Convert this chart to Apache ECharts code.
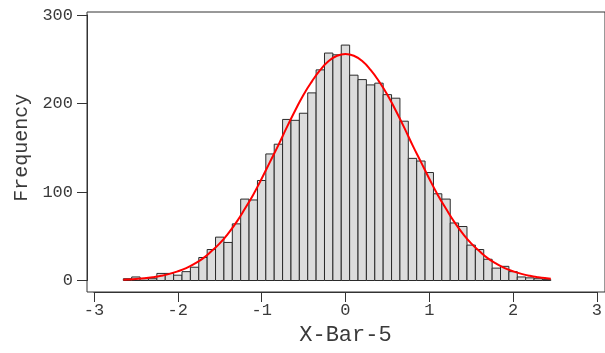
<!DOCTYPE html>
<html>
<head>
<meta charset="utf-8">
<script src="https://cdn.jsdelivr.net/npm/echarts@6/dist/echarts.min.js"></script>
<style>html,body{margin:0;padding:0;background:#fff}#c{width:605px;height:353px}</style>
</head>
<body>
<div id="c"></div>
<script>
// Histogram bin centers (width 0.1)
var binCenters = [-2.6,-2.5,-2.4,-2.3,-2.2,-2.1,-2.0,-1.9,-1.8,-1.7,-1.6,-1.5,-1.4,-1.3,-1.2,-1.1,-1.0,-0.9,-0.8,-0.7,-0.6,-0.5,-0.4,-0.3,-0.2,-0.1,0.0,0.1,0.2,0.3,0.4,0.5,0.6,0.7,0.8,0.9,1.0,1.1,1.2,1.3,1.4,1.5,1.6,1.7,1.8,1.9,2.0,2.1,2.2,2.3,2.4];
var binCounts  = [2,4,2,2,8,8,6,10,15,26,35,49,43,64,92,91,113,143,154,182,181,189,212,238,257,255,266,232,227,221,223,210,206,180,138,135,122,98,92,65,61,40,35,24,14,16,10,4,3,2,1];
var binWidth = 0.1;
// Fitted normal curve
var curveX = [-2.65,-2.6,-2.5,-2.4,-2.3,-2.2,-2.1,-2.0,-1.9,-1.8,-1.7,-1.6,-1.5,-1.4,-1.3,-1.2,-1.1,-1.0,-0.9,-0.8,-0.7,-0.6,-0.5,-0.4,-0.3,-0.2,-0.1,0.0,0.1,0.2,0.3,0.4,0.5,0.6,0.7,0.8,0.9,1.0,1.1,1.2,1.3,1.4,1.5,1.6,1.7,1.8,1.9,2.0,2.1,2.2,2.3,2.4,2.45];
var curveY = [0.9,1.1,1.7,2.5,3.7,5.3,7.5,10.4,14,19,25,33,42,53,66,81,97,115,134,153,173,192,210,225,238,248,254,256,254,248,238,225,210,192,173,153,134,115,97,81,66,53,42,33,25,19,14,10.4,7.5,5.3,3.7,2.5,2.1];
// Axis ticks
var xTicks = [-3,-2,-1,0,1,2,3];
var yTicks = [0,100,200,300];

var FONT = '"Liberation Mono", "DejaVu Sans Mono", monospace';
var TXT = '#3a3a3a';

var chart = echarts.init(document.getElementById('c'), null, {renderer:'canvas'});
var histData = binCenters.map(function(c,i){return [c, binCounts[i]];});
var lineData = curveX.map(function(x,i){return [x, curveY[i]];});

chart.setOption({
  animation:false,
  backgroundColor:'#fff',
  grid:[
    {left:94, top:15, width:504.5, bottom:72.5, containLabel:false},
    {left:87, top:12, width:560, bottom:61, show:true, borderColor:'#333', borderWidth:1, backgroundColor:'transparent'}
  ],
  xAxis:[
    {type:'value', gridIndex:0, min:xTicks[0], max:xTicks[xTicks.length-1], interval:1, offset:11.5,
     axisLine:{show:true, onZero:false, lineStyle:{color:'#333', width:1}}, splitLine:{show:false},
     axisTick:{show:true, length:10, inside:false, lineStyle:{color:'#333', width:1}},
     axisLabel:{show:true, margin:10, color:TXT, fontFamily:FONT, fontSize:17},
     name:'X-Bar-5', nameLocation:'middle', nameGap:32,
     nameTextStyle:{color:TXT, fontFamily:FONT, fontSize:22}},
    {type:'value', gridIndex:1, show:false, min:0, max:1}
  ],
  yAxis:[
    {type:'value', gridIndex:0, min:yTicks[0], max:yTicks[yTicks.length-1], interval:100, offset:7,
     axisLine:{show:true, onZero:false, lineStyle:{color:'#333', width:1}}, splitLine:{show:false},
     axisTick:{show:true, length:10, inside:false, lineStyle:{color:'#333', width:1}},
     axisLabel:{show:true, margin:14, color:TXT, fontFamily:FONT, fontSize:17},
     name:'Frequency', nameLocation:'middle', nameGap:54, nameRotate:90,
     nameTextStyle:{color:TXT, fontFamily:FONT, fontSize:20}},
    {type:'value', gridIndex:1, show:false, min:0, max:1}
  ],
  series:[
    {type:'custom', xAxisIndex:0, yAxisIndex:0, data:histData,
     renderItem:function(params, api){
       var c = api.value(0), v = api.value(1);
       var p0 = api.coord([c - binWidth/2, v]);
       var p1 = api.coord([c + binWidth/2, 0]);
       return {type:'rect', shape:{x:p0[0], y:p0[1], width:p1[0]-p0[0], height:p1[1]-p0[1]},
               style:{fill:'#dcdcdc', stroke:'#2a2a2a', lineWidth:1}};
     }},
    {type:'line', xAxisIndex:0, yAxisIndex:0, data:lineData, smooth:true, symbol:'none',
     lineStyle:{color:'#ff0000', width:2}, z:5}
  ]
});
</script>
</body>
</html>
